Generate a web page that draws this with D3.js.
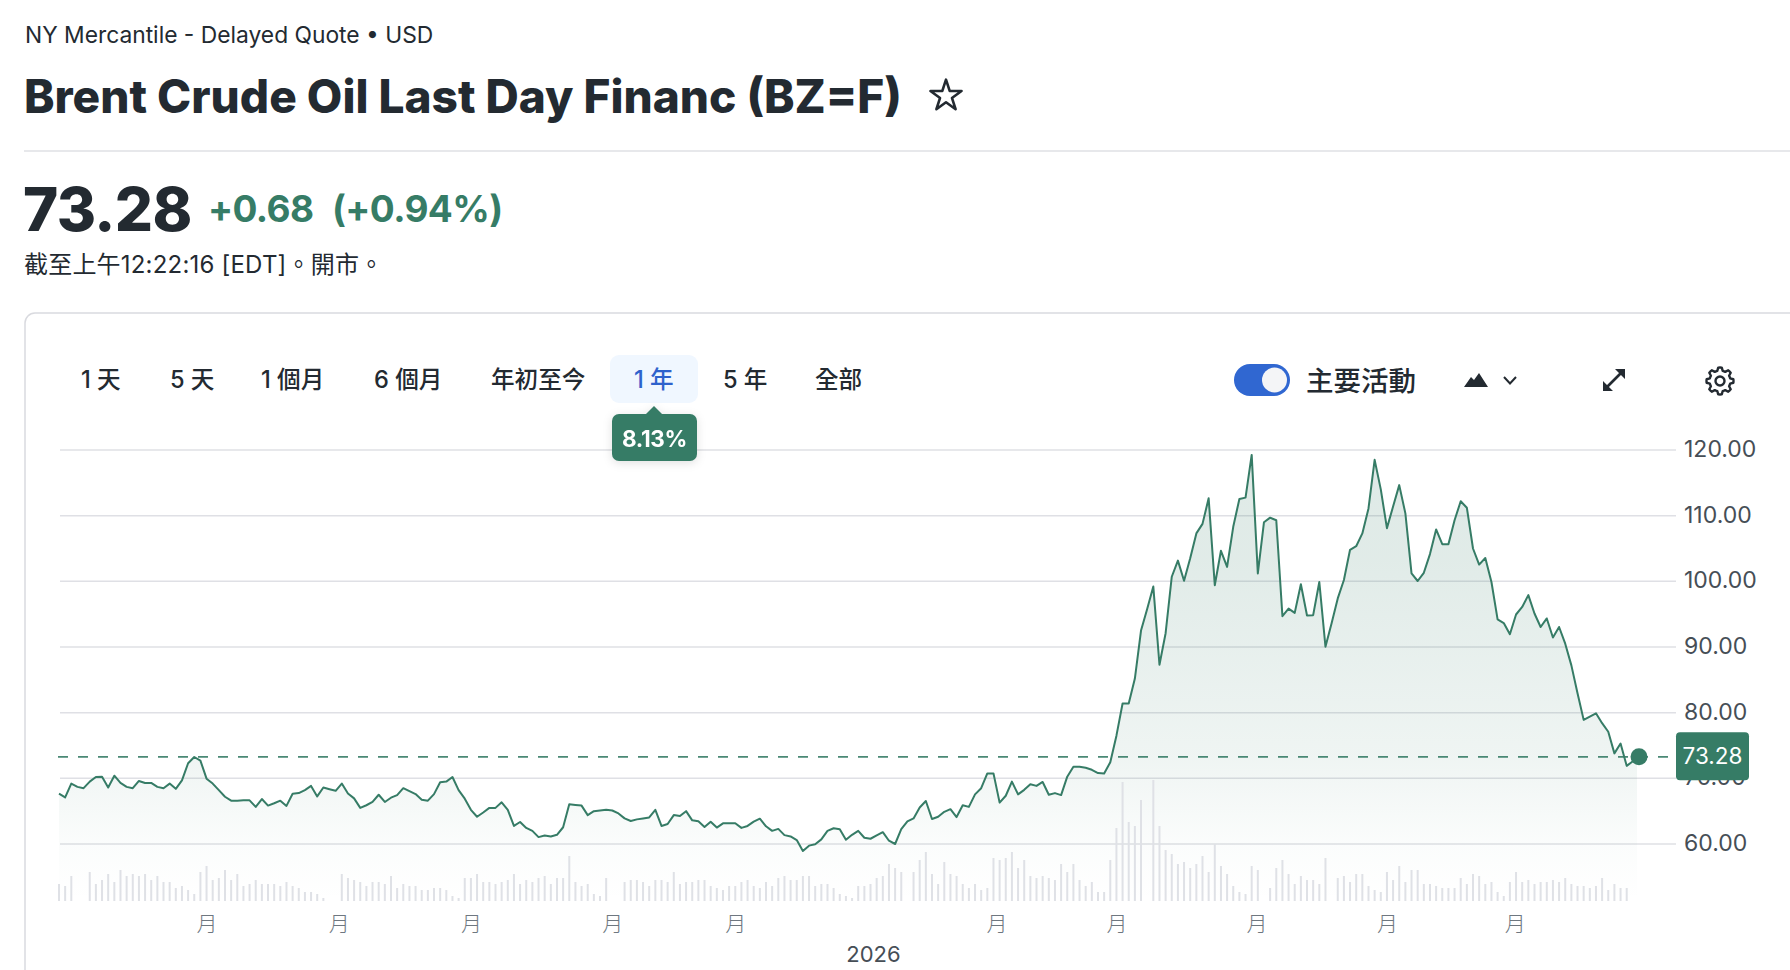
<!DOCTYPE html>
<html lang="zh-Hant">
<head>
<meta charset="utf-8">
<title>Brent Crude Oil Last Day Financ (BZ=F)</title>
<script src="https://cdn.jsdelivr.net/npm/d3@7/dist/d3.min.js"></script>
<style>
  html, body { margin: 0; padding: 0; background: #fff; overflow: hidden; }
  svg { display: block; font-family: Inter, "Noto Sans CJK TC", sans-serif; }
  .axis path, .axis line { display: none; }
</style>
</head>
<body>
<svg id="quote" width="1790" height="970"></svg>
<script>
// Daily settlement prices, oldest session first (USD per barrel)
const closes = [
  67.66,67.1,69.2,68.7,68.5,69.5,70.2,70.25,68.6,70.4,
  69.3,68.7,68.5,69.6,69.3,69.3,68.7,68.5,69.2,68.4,
  69.7,72.3,73.25,72.7,69.95,69.2,68.2,67.2,66.6,66.6,
  66.65,66.65,65.65,66.85,65.85,66.2,66.6,65.8,67.65,67.75,
  68.2,68.85,67.25,68.6,68.35,68.1,69.2,67.7,66.95,65.5,
  65.9,66.4,67.5,66.4,67.05,67.45,68.5,68.05,67.6,66.75,
  66.6,67.6,69.4,69.5,70.2,68.2,66.9,65.2,64.15,64.8,
  65.5,65.5,66.35,65.2,62.75,63.35,62.45,62,61.05,61.3,
  61.15,61.4,62.55,66.05,65.95,65.85,64.4,65,65.1,65.2,
  65.1,64.65,63.9,63.5,63.75,63.9,64.05,65.2,62.75,63.05,
  64.4,64.25,65,63.6,63.45,62.6,63.4,62.5,63.15,63.15,
  63.15,62.45,62.75,63.4,63.85,62.7,62,62.3,61.35,61.15,
  60.6,58.95,59.75,59.95,60.7,62,62.4,62.25,60.65,61.4,
  62,60.95,60.8,61.3,61.8,60.5,60,62.25,63.45,63.9,
  65.55,66.55,63.8,64.15,64.9,65.3,64.1,65.9,65.65,67.55,
  68.5,70.75,70.75,66.3,67.35,69.5,67.55,68.25,69.1,68.85,
  69.45,67.5,67.75,67.45,70.25,71.75,71.75,71.6,71.3,70.8,
  70.75,72.45,76.5,81.4,81.4,85.2,92.5,95.8,99.2,87.3,
  92.1,100.7,103.15,100.1,103.5,107.3,108.75,112.65,99.4,104.65,
  102.2,108.3,112.55,112.75,119.25,101.2,109,109.7,109.3,94.7,
  95.85,95.2,99.55,94.8,94.85,99.9,90.05,93.6,97.4,100.2,
  104.8,105.35,107.3,111.1,118.5,114,108.1,111.4,114.65,110.35,
  101.2,100.05,101.3,104.15,107.9,105.65,105.65,109.3,112.2,111.2,
  105,102.55,103.55,99.9,94.2,93.65,91.95,94.95,96.1,97.9,
  95.1,93.05,94.35,91.45,93.05,90.5,87.2,82.95,78.9,79.4,
  79.9,78.4,77.1,73.8,75.3,71.9,72.6,73.28
];

// Session volume, thousands of contracts; zero where no volume was reported
const volumes = [
  51,45,75,0,0,87,51,63,81,57,
  93,75,81,75,81,63,75,57,57,39,
  45,33,21,87,105,63,69,93,63,81,
  45,51,63,51,51,51,45,57,45,39,
  27,27,21,9,0,0,81,69,63,57,
  45,57,57,51,75,39,51,45,45,33,
  33,39,39,33,15,9,69,69,81,57,
  57,51,57,63,81,51,63,57,69,75,
  51,69,69,135,57,45,51,21,15,69,
  0,0,57,63,63,57,45,63,63,57,
  87,51,57,57,63,63,45,39,33,45,
  45,57,63,45,39,57,45,69,75,63,
  63,75,75,45,51,51,39,21,15,9,
  45,45,51,69,75,111,99,87,0,87,
  123,147,81,51,117,81,75,51,39,51,
  33,39,129,123,129,147,99,123,75,69,
  75,69,63,111,87,111,63,45,57,27,
  27,123,219,357,237,225,303,0,363,225,
  153,141,111,117,99,111,135,87,171,105,
  81,45,27,21,105,93,0,39,99,123,
  81,51,75,63,63,51,129,0,69,75,
  57,81,81,45,33,27,87,63,105,57,
  93,93,51,51,45,39,39,39,69,51,
  81,75,51,57,27,15,57,87,57,63,
  51,57,57,63,57,69,51,45,45,39,
  45,69,33,51,39,39,0,0
];

const priceTicks = [60, 70, 80, 90, 100, 110, 120];
const monthTickSessions = [24, 45.5, 67, 90, 110, 152.5, 172, 194.8, 216, 236.8];
const monthTickLabel = "月";
const yearTickSession = 132.4;
const yearTickLabel = "2026";
const lastPrice = 73.28;

const rangeTabs = [
  { label: "1 天", left: 81 }, { label: "5 天", left: 170 }, { label: "1 個月", left: 261 },
  { label: "6 個月", left: 374 }, { label: "年初至今", left: 491 }, { label: "1 年", left: 634, active: true },
  { label: "5 年", left: 723 }, { label: "全部", left: 815 }
];

const INK = "#232a31", GREEN = "#367c66", GRID = "#dfe0e5", AXIS_TEXT = "#464e56";
const svg = d3.select("#quote");

// Header block
const put = (x, y, text, size, weight, fill, anchor) => svg.append("text")
  .attr("x", x).attr("y", y).attr("font-size", size).attr("font-weight", weight)
  .attr("fill", fill).attr("text-anchor", anchor || "start").text(text);

put(25, 43, "NY Mercantile - Delayed Quote • USD", 22.8, 400, INK);
put(24, 113, "Brent Crude Oil Last Day Financ (BZ=F)", 46, 800, INK);
svg.append("path")
  .attr("d", d3.symbol(d3.symbolStar, 300)())
  .attr("transform", "translate(946,96)")
  .attr("fill", "none").attr("stroke", INK).attr("stroke-width", 2.6).attr("stroke-linejoin", "round");
svg.append("line").attr("x1", 24).attr("x2", 1790).attr("y1", 151).attr("y2", 151)
  .attr("stroke", GRID).attr("stroke-width", 1.5);

put(23, 231, "73.28", 60, 800, INK).attr("letter-spacing", -0.6);
put(208, 222, "+0.68", 37, 700, GREEN).attr("letter-spacing", -0.6);
put(332, 222, "(+0.94%)", 37, 700, GREEN).attr("letter-spacing", -0.6);
put(24, 273, "截至上午12:22:16 [EDT]。開市。", 24, 400, INK).attr("letter-spacing", 0.2);

// Card outline, open towards the right and bottom edges
svg.append("rect").attr("x", 25).attr("y", 313).attr("width", 1900).attr("height", 900)
  .attr("rx", 10).attr("fill", "#fff").attr("stroke", "#d9dadf").attr("stroke-width", 1.5);

// Range selector
svg.append("rect").attr("x", 610).attr("y", 355).attr("width", 88).attr("height", 48)
  .attr("rx", 9).attr("fill", "#f0f7ff");
svg.selectAll(".tab").data(rangeTabs).join("text").attr("class", "tab")
  .attr("x", d => d.left).attr("y", 388)
  .attr("font-size", 23.6).attr("font-weight", 500)
  .attr("fill", d => d.active ? "#2e62cc" : INK).text(d => d.label);

// Chart tools
svg.append("rect").attr("x", 1234).attr("y", 364).attr("width", 56).attr("height", 32).attr("rx", 16).attr("fill", "#3067d1");
svg.append("circle").attr("cx", 1274.5).attr("cy", 380).attr("r", 12.5).attr("fill", "#f4f5f7");
put(1306, 391, "主要活動", 27.5, 500, INK);
svg.append("path").attr("d", "M1464,387 L1471,377 L1474,380 L1479,373 L1488,387 Z").attr("fill", INK);
svg.append("path").attr("d", "M1504,377 L1510,383.5 L1516,377").attr("fill", "none").attr("stroke", INK).attr("stroke-width", 2);
svg.append("path").attr("d", "M1606,388 L1622,372").attr("stroke", INK).attr("stroke-width", 2.6);
svg.append("path").attr("d", "M1603,391 L1603,381 L1613,391 Z M1625,369 L1625,379 L1615,369 Z").attr("fill", INK);

// Settings gear: eight teeth around a ring
const gearPoints = d3.range(48).map(k => {
  const a = k / 48 * 2 * Math.PI, phase = (k + 1) % 6;
  const r = phase < 3 ? 13.5 : 10.5;
  return [r * Math.sin(a), -r * Math.cos(a)];
});
const gear = svg.append("g").attr("transform", "translate(1720,381)");
gear.append("path").attr("d", d3.line().curve(d3.curveLinearClosed)(gearPoints))
  .attr("fill", "none").attr("stroke", INK).attr("stroke-width", 2.4).attr("stroke-linejoin", "round");
gear.append("circle").attr("r", 4.5).attr("fill", "none").attr("stroke", INK).attr("stroke-width", 2.4);

// Scales: sessions across the plot, prices up the side, volume from the floor
const x = d3.scaleLinear().domain([0, closes.length - 1]).range([59, 1639]);
const y = d3.scaleLinear().domain([60, 120]).range([844, 450]);
const vol = d3.scaleLinear().domain([0, 363]).range([901, 780]);

// Horizontal rules
svg.append("g").selectAll("line").data(priceTicks).join("line")
  .attr("x1", 60).attr("x2", 1676)
  .attr("y1", d => y(d)).attr("y2", d => y(d))
  .attr("stroke", GRID).attr("stroke-width", 1.5);

// Price axis labels
const priceAxis = svg.append("g").attr("class", "axis")
  .attr("transform", "translate(1676,-1)")
  .call(d3.axisRight(y).tickValues(priceTicks).tickFormat(d3.format(".2f")).tickSize(0).tickPadding(8));
priceAxis.selectAll("text").attr("font-size", 23).attr("font-family", "Inter, sans-serif")
  .attr("fill", AXIS_TEXT);

// Area fading out towards the volume bars
const defs = svg.append("defs");
const fade = defs.append("linearGradient").attr("id", "areaFade")
  .attr("gradientUnits", "userSpaceOnUse").attr("x1", 0).attr("x2", 0).attr("y1", 450).attr("y2", 901);
[[0, .16], [.24, .15], [.68, .08], [.875, .02], [1, 0]].forEach(([o, a]) =>
  fade.append("stop").attr("offset", o).attr("stop-color", GREEN).attr("stop-opacity", a));
defs.append("clipPath").attr("id", "areaEnd").append("rect")
  .attr("x", 0).attr("y", 0).attr("width", x(closes.length - 1) - 2).attr("height", 970);

svg.append("path").datum(closes)
  .attr("d", d3.area().x((d, i) => x(i)).y0(901).y1(d => y(d)))
  .attr("fill", "url(#areaFade)").attr("clip-path", "url(#areaEnd)");

// Volume bars
svg.append("g").selectAll("rect").data(volumes).join("rect")
  .attr("x", (d, i) => x(i) - 1).attr("width", 2)
  .attr("y", d => vol(d)).attr("height", d => vol(0) - vol(d))
  .attr("fill", "#dfe1e6");

// Price line
svg.append("path").datum(closes)
  .attr("d", d3.line().x((d, i) => x(i)).y(d => y(d)))
  .attr("fill", "none").attr("stroke", GREEN).attr("stroke-width", 2).attr("stroke-linejoin", "round");

// Last price reference line, marker and tag
svg.append("line").attr("x1", 58).attr("x2", 1676)
  .attr("y1", y(lastPrice)).attr("y2", y(lastPrice))
  .attr("stroke", GREEN).attr("stroke-opacity", .9).attr("stroke-width", 1.7).attr("stroke-dasharray", "10 10");
svg.append("circle").attr("cx", x(closes.length - 1)).attr("cy", y(lastPrice)).attr("r", 8.5).attr("fill", GREEN);
svg.append("rect").attr("x", 1676).attr("y", y(lastPrice) - 24.5).attr("width", 73).attr("height", 48)
  .attr("rx", 4).attr("fill", GREEN);
svg.append("text").attr("x", 1712.5).attr("y", y(lastPrice) - 1).attr("dy", "0.36em")
  .attr("text-anchor", "middle").attr("font-size", 22.5).attr("fill", "#fff").text(lastPrice.toFixed(2));

// Time axis
const monthAxis = svg.append("g").attr("class", "axis").attr("transform", "translate(0,910)")
  .call(d3.axisBottom(x).tickValues(monthTickSessions).tickFormat(() => monthTickLabel).tickSize(0).tickPadding(6));
monthAxis.selectAll("text").attr("font-size", 21).attr("font-family", "'Noto Sans CJK TC', sans-serif")
  .attr("font-weight", 300).attr("fill", "#6e7780");
svg.append("g").attr("class", "axis").attr("transform", "translate(0,946)")
  .call(d3.axisBottom(x).tickValues([yearTickSession]).tickFormat(() => yearTickLabel).tickSize(0).tickPadding(0))
  .selectAll("text").attr("font-size", 22).attr("font-family", "Inter, sans-serif").attr("fill", AXIS_TEXT);

// Range performance badge
const badge = svg.append("g").style("filter", "drop-shadow(0 2px 5px rgba(0,0,0,.12))");
badge.append("path").attr("d", "M646,414 L654,406 L662,414 Z").attr("fill", GREEN);
badge.append("rect").attr("x", 612).attr("y", 414).attr("width", 85).attr("height", 47).attr("rx", 7).attr("fill", GREEN);
badge.append("text").attr("x", 654.5).attr("y", 447).attr("text-anchor", "middle")
  .attr("font-size", 22.5).attr("font-weight", 700).attr("letter-spacing", -0.3).attr("fill", "#fff").text("8.13%");
</script>
</body>
</html>
